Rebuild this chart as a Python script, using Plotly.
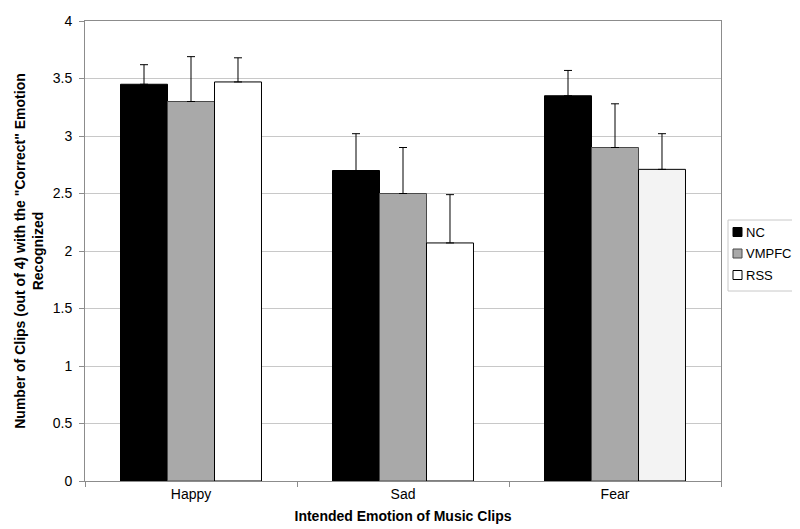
import plotly.graph_objects as go

categories = ["Happy", "Sad", "Fear"]
series_names = ["NC", "VMPFC", "RSS"]
nc = [3.45, 2.70, 3.35]
nc_err = [0.17, 0.32, 0.22]
vmpfc = [3.30, 2.50, 2.90]
vmpfc_err = [0.39, 0.40, 0.38]
rss = [3.47, 2.07, 2.71]
rss_err = [0.21, 0.42, 0.31]

fill_colors = ["black", "#a9a9a9", "white"]
edge_colors = ["black", "#4a4a4a", "black"]

fig = go.Figure()

def add(name, vals, errs, color, line_color):
    fig.add_trace(go.Bar(
        name=name, x=categories, y=vals,
        marker=dict(color=color, line=dict(color=line_color, width=1)),
        error_y=dict(type="data", symmetric=False, array=errs,
                     arrayminus=[0] * len(errs), color="black",
                     thickness=1, width=4),
    ))

add(series_names[0], nc, nc_err, fill_colors[0], edge_colors[0])
add(series_names[1], vmpfc, vmpfc_err, fill_colors[1], edge_colors[1])
add(series_names[2], rss, rss_err, ["white", "white", "#f3f3f3"], edge_colors[2])

# Legend drawn as a compact boxed key to the right of the plot
shapes = [dict(type="rect", xref="paper", yref="paper",
               x0=(720 - 77) / 636, x1=(797 - 77) / 636,
               y0=(473 - 283) / 460, y1=(473 - 212) / 460,
               line=dict(color="#c8c8c8", width=1), fillcolor="white")]
annotations = []
for i, name in enumerate(series_names):
    yc = 224 + 21.5 * i
    shapes.append(dict(type="rect", xref="paper", yref="paper",
                       x0=(725 - 77) / 636, x1=(734 - 77) / 636,
                       y0=(473 - (yc + 4.5)) / 460, y1=(473 - (yc - 4.5)) / 460,
                       line=dict(color=edge_colors[i], width=1),
                       fillcolor=fill_colors[i]))
    annotations.append(dict(text=name, xref="paper", yref="paper",
                            x=(737 - 77) / 636, y=(473 - yc) / 460,
                            xanchor="left", yanchor="middle", showarrow=False,
                            borderpad=0,
                            font=dict(size=13, color="black")))

fig.update_layout(
    width=800, height=529,
    paper_bgcolor="white", plot_bgcolor="white",
    margin=dict(l=77, r=87, t=13, b=56, autoexpand=False),
    barmode="group", bargap=0.335, bargroupgap=0,
    font=dict(family="Liberation Sans, Arial, sans-serif", size=14, color="black"),
    showlegend=False,
    shapes=shapes,
    annotations=annotations,
    xaxis=dict(
        showline=True, linecolor="#8c8c8c", mirror=True,
        ticks="outside", tickson="boundaries", ticklen=5, tickcolor="#8c8c8c",
        title=dict(text="<b>Intended Emotion of Music Clips</b>", standoff=10,
                   font=dict(size=14)),
    ),
    yaxis=dict(
        range=[0, 4], dtick=0.5,
        showline=True, linecolor="#8c8c8c", mirror=True,
        ticks="outside", ticklen=5, tickcolor="#8c8c8c", ticklabelstandoff=4,
        showgrid=True, gridcolor="#c8c8c8", gridwidth=1, zeroline=False,
        title=dict(text="<b>Number of Clips (out of 4) with the \"Correct\" Emotion<br>Recognized</b>",
                   standoff=5, font=dict(size=14)),
    ),
)

fig.write_html("out.html")
